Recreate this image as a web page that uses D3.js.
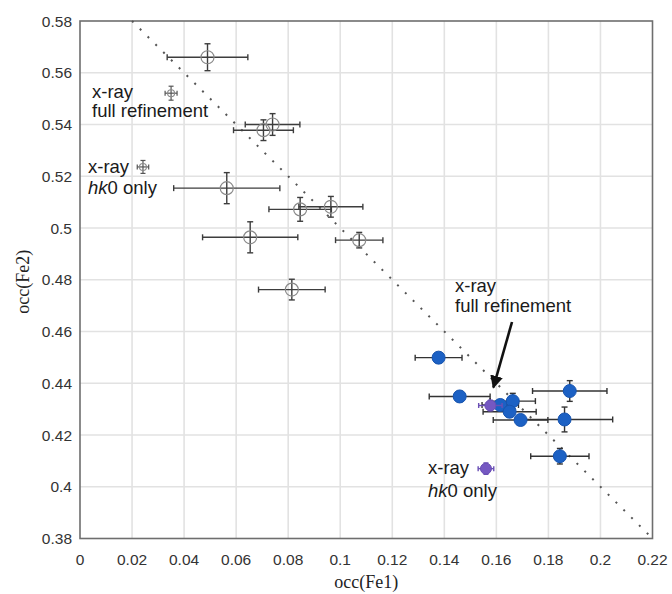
<!DOCTYPE html>
<html>
<head>
<meta charset="utf-8">
<script src="https://cdn.jsdelivr.net/npm/d3@7"></script>
<style>
  html, body { margin: 0; padding: 0; background: #fff; }
  svg { display: block; }
  .tick-label { font-family: "Liberation Sans", Arial, sans-serif; font-size: 15.5px; fill: #333; }
  .note { font-family: "Liberation Sans", Arial, sans-serif; font-size: 18.5px; fill: #1a1a1a; }
  .axis-title { font-family: "Liberation Serif", "Times New Roman", serif; font-size: 18px; fill: #222; }
</style>
</head>
<body>
<svg id="chart" width="672" height="594"></svg>
<script>
// Occupancies of the Fe1 and Fe2 sites

// tick values for both axes
const xTicks = [0, 0.02, 0.04, 0.06, 0.08, 0.1, 0.12, 0.14, 0.16, 0.18, 0.2, 0.22];
const yTicks = [0.38, 0.4, 0.42, 0.44, 0.46, 0.48, 0.5, 0.52, 0.54, 0.56, 0.58];
const xTickLabels = ["0", "0.02", "0.04", "0.06", "0.08", "0.1", "0.12", "0.14", "0.16", "0.18", "0.2", "0.22"];
const yTickLabels = ["0.38", "0.4", "0.42", "0.44", "0.46", "0.48", "0.5", "0.52", "0.54", "0.56", "0.58"];

// open-symbol series: occ(Fe1), occ(Fe2), errors
const openFe1  = [0.049, 0.074, 0.0705, 0.0564, 0.0846, 0.0964, 0.0654, 0.0814, 0.1073];
const openFe2  = [0.566, 0.540, 0.5378, 0.5154, 0.5072, 0.5082, 0.4964, 0.4762, 0.4953];
const openErrX = [0.0155, 0.0105, 0.0115, 0.0204, 0.012, 0.0123, 0.0183, 0.0128, 0.0091];
const openErrY = [0.0052, 0.0042, 0.004, 0.006, 0.0046, 0.004, 0.006, 0.004, 0.003];

// open-symbol x-ray refinements (full refinement, hk0 only)
const xrayOpenFe1  = [0.035, 0.0242];
const xrayOpenFe2  = [0.5521, 0.5236];
const xrayOpenErrX = [0.0023, 0.0022];
const xrayOpenErrY = [0.0027, 0.0025];

// filled blue series
const blueFe1  = [0.1378, 0.1459, 0.1882, 0.1663, 0.1615, 0.1651, 0.1693, 0.1862, 0.1844];
const blueFe2  = [0.4499, 0.4349, 0.4370, 0.4331, 0.4316, 0.4290, 0.4258, 0.4260, 0.4118];
const blueErrX = [0.009, 0.0117, 0.0143, 0.0087, 0.007, 0.0102, 0.0105, 0.0185, 0.0112];
const blueErrY = [0.002, 0.002, 0.004, 0.003, 0.002, 0.002, 0.002, 0.0048, 0.003];

// filled purple x-ray refinements (full refinement, hk0 only)
const purpleFe1  = [0.1577, 0.156];
const purpleFe2  = [0.4314, 0.407];
const purpleErrX = [0.0045, 0.003];
const purpleErrY = [0.002, 0.0022];

// Fe1 + Fe2 = 0.6 guide line
const guideFe1 = [0.02, 0.22];
const guideFe2 = [0.58, 0.38];

const svg = d3.select("#chart");
const plotL = 80, plotR = 652.5, plotT = 21, plotB = 538.5;

const x = d3.scaleLinear().domain([0, 0.22]).range([plotL, plotR]);
const y = d3.scaleLinear().domain([0.38, 0.58]).range([plotB, plotT]);

// gridlines
const grid = svg.append("g");
grid.selectAll("line.vg").data(xTicks.slice(1, -1)).join("line")
  .attr("x1", d => x(d)).attr("x2", d => x(d))
  .attr("y1", plotT).attr("y2", plotB)
  .attr("stroke", "#e2e2e2").attr("stroke-width", 1.6);
grid.selectAll("line.hg").data(yTicks.slice(1, -1)).join("line")
  .attr("x1", plotL).attr("x2", plotR)
  .attr("y1", d => y(d)).attr("y2", d => y(d))
  .attr("stroke", "#e2e2e2").attr("stroke-width", 1.6);

// plot frame
svg.append("rect")
  .attr("x", plotL).attr("y", plotT)
  .attr("width", plotR - plotL).attr("height", plotB - plotT)
  .attr("fill", "none").attr("stroke", "#6e6e6e").attr("stroke-width", 1.6);

// tick labels
svg.append("g").selectAll("text").data(xTicks).join("text")
  .attr("class", "tick-label")
  .attr("x", d => x(d)).attr("y", plotB + 26)
  .attr("text-anchor", "middle")
  .text((d, i) => xTickLabels[i]);
svg.append("g").selectAll("text").data(yTicks).join("text")
  .attr("class", "tick-label")
  .attr("x", plotL - 8).attr("y", d => y(d) + 5.5)
  .attr("text-anchor", "end")
  .text((d, i) => yTickLabels[i]);

// axis titles
svg.append("text").attr("class", "axis-title")
  .attr("x", (plotL + plotR) / 2).attr("y", 588)
  .attr("text-anchor", "middle").text("occ(Fe1)");
svg.append("text").attr("class", "axis-title")
  .attr("transform", `translate(${29},${(plotT + plotB) / 2 + 2}) rotate(-90)`)
  .attr("text-anchor", "middle").text("occ(Fe2)");

// dotted guide line
svg.append("line")
  .attr("x1", x(guideFe1[0])).attr("y1", y(guideFe2[0]))
  .attr("x2", x(guideFe1[1])).attr("y2", y(guideFe2[1]))
  .attr("stroke", "#555").attr("stroke-width", 2)
  .attr("stroke-dasharray", "2 9");

// error bars + markers
function series(fe1, fe2, ex, ey, opts) {
  const data = fe1.map((v, i) => ({ x: v, y: fe2[i], ex: ex[i], ey: ey[i] }));
  const g = svg.append("g");
  const cap = opts.cap;
  const eb = g.selectAll("g.eb").data(data).join("g")
    .attr("stroke", opts.barColor).attr("stroke-width", opts.barWidth).attr("fill", "none");
  eb.append("line")
    .attr("x1", d => x(d.x - d.ex)).attr("x2", d => x(d.x + d.ex))
    .attr("y1", d => y(d.y)).attr("y2", d => y(d.y));
  eb.append("line")
    .attr("x1", d => x(d.x - d.ex)).attr("x2", d => x(d.x - d.ex))
    .attr("y1", d => y(d.y) - cap).attr("y2", d => y(d.y) + cap);
  eb.append("line")
    .attr("x1", d => x(d.x + d.ex)).attr("x2", d => x(d.x + d.ex))
    .attr("y1", d => y(d.y) - cap).attr("y2", d => y(d.y) + cap);
  eb.append("line")
    .attr("x1", d => x(d.x)).attr("x2", d => x(d.x))
    .attr("y1", d => y(d.y - d.ey)).attr("y2", d => y(d.y + d.ey));
  eb.append("line")
    .attr("x1", d => x(d.x) - cap).attr("x2", d => x(d.x) + cap)
    .attr("y1", d => y(d.y + d.ey)).attr("y2", d => y(d.y + d.ey));
  eb.append("line")
    .attr("x1", d => x(d.x) - cap).attr("x2", d => x(d.x) + cap)
    .attr("y1", d => y(d.y - d.ey)).attr("y2", d => y(d.y - d.ey));
  g.selectAll("circle").data(data).join("circle")
    .attr("cx", d => x(d.x)).attr("cy", d => y(d.y)).attr("r", opts.r)
    .attr("fill", opts.fill).attr("stroke", opts.stroke)
    .attr("stroke-width", opts.strokeWidth);
}

series(openFe1, openFe2, openErrX, openErrY,
  { r: 6.5, fill: "none", stroke: "#8a8a8a", strokeWidth: 1.2, barColor: "#3d3d3d", barWidth: 1.4, cap: 3 });
series(xrayOpenFe1, xrayOpenFe2, xrayOpenErrX, xrayOpenErrY,
  { r: 3.5, fill: "none", stroke: "#8a8a8a", strokeWidth: 1.1, barColor: "#555", barWidth: 1.2, cap: 2.5 });
series(blueFe1, blueFe2, blueErrX, blueErrY,
  { r: 6.5, fill: "#1c61c4", stroke: "#1654b0", strokeWidth: 1, barColor: "#333", barWidth: 1.4, cap: 3 });
series(purpleFe1, purpleFe2, purpleErrX, purpleErrY,
  { r: 5.5, fill: "#7558c2", stroke: "#6a4fb5", strokeWidth: 1, barColor: "#6a4fb5", barWidth: 1.4, cap: 2.5 });

// annotations
function note(px, py, parts) {
  const t = svg.append("text").attr("class", "note").attr("x", px).attr("y", py);
  parts.forEach(p => t.append("tspan").attr("font-style", p[1] ? "italic" : "normal").text(p[0]));
}
note(92, 98, [["x-ray"]]);
note(92, 117, [["full refinement"]]);
note(88, 173, [["x-ray"]]);
note(88, 194, [["hk", true], ["0 only"]]);
note(455, 292, [["x-ray"]]);
note(455, 312, [["full refinement"]]);
note(428, 474, [["x-ray"]]);
note(428, 497, [["hk", true], ["0 only"]]);

// arrow to the full-refinement point
svg.append("defs").append("marker")
  .attr("id", "head").attr("viewBox", "0 0 10 10")
  .attr("refX", 9).attr("refY", 5)
  .attr("markerWidth", 5).attr("markerHeight", 5)
  .attr("markerUnits", "strokeWidth")
  .attr("orient", "auto")
  .append("path").attr("d", "M0,0 L10,5 L0,10 Z").attr("fill", "#111");
svg.append("line")
  .attr("x1", 512).attr("y1", 322)
  .attr("x2", x(purpleFe1[0]) + 3).attr("y2", y(purpleFe2[0]) - 18)
  .attr("stroke", "#111").attr("stroke-width", 2.6)
  .attr("marker-end", "url(#head)");
</script>
</body>
</html>
